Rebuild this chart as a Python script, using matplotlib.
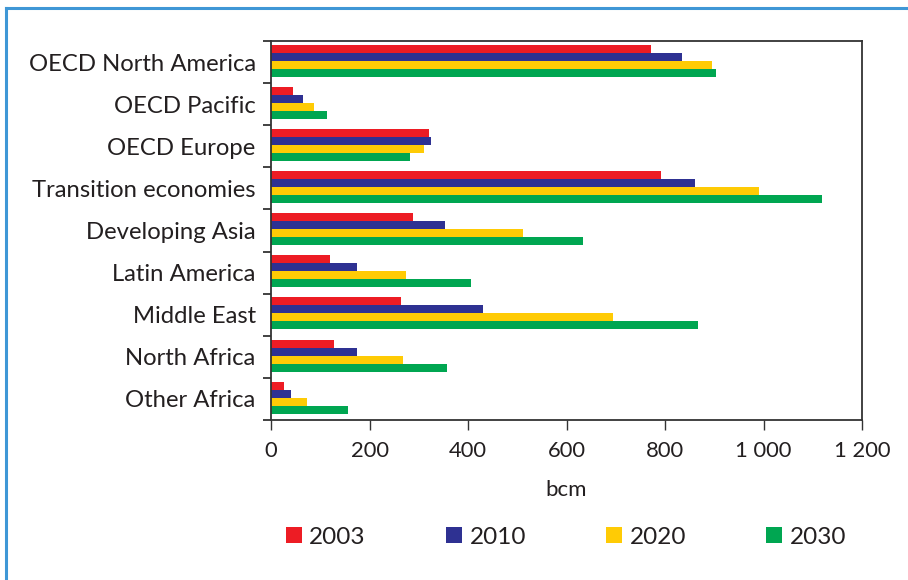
import matplotlib
matplotlib.use("Agg")
import matplotlib.pyplot as plt
import numpy as np
from matplotlib.patches import Patch
from matplotlib.lines import Line2D

regions = ["OECD North America", "OECD Pacific", "OECD Europe", "Transition economies",
           "Developing Asia", "Latin America", "Middle East", "North Africa", "Other Africa"]
years = ["2003", "2010", "2020", "2030"]
v2003 = [771, 45, 321, 791, 288, 120, 264, 127, 27]
v2010 = [834, 64, 325, 860, 354, 174, 430, 174, 41]
v2020 = [895, 88, 310, 990, 511, 274, 695, 268, 74]
v2030 = [903, 113, 283, 1118, 634, 407, 867, 358, 156]
x_ticks = [0, 200, 400, 600, 800, 1000, 1200]
x_ticklabels = ["0", "200", "400", "600", "800", "1 000", "1 200"]
colors = ["#ed1c24", "#2e3192", "#ffcb05", "#00a651"]
txt = "#231f20"
plt.rcParams['font.family'] = ['Lato', 'DejaVu Sans']

fig = plt.figure(figsize=(9.08, 5.8), dpi=100)
W, H = 908, 580
ax = fig.add_axes([271 / W, 1 - 420 / H, (862 - 271) / W, (420 - 41) / H])

series = [v2003, v2010, v2020, v2030]
y = np.arange(len(regions))
bh = 0.19
for i, (vals, c) in enumerate(zip(series, colors)):
    ax.barh(y + (i - 1.5) * bh - 0.03, vals, height=bh, color=c, label=years[i], linewidth=0)

ax.set_ylim(len(regions) - 0.5, -0.5)
ax.set_xlim(0, 1200)
ax.set_yticks(y)
ax.set_yticklabels(regions, fontsize=17.2, color=txt)
ax.set_yticks(np.arange(-0.5, len(regions) + 0.5, 1), minor=True)
ax.tick_params(axis='y', which='major', length=0, pad=11)
ax.tick_params(axis='y', which='minor', length=6, width=1.3, color="#333333", direction='out')
ax.set_xticks(x_ticks)
ax.set_xticklabels(x_ticklabels, fontsize=15.8, color=txt)
ax.tick_params(axis='x', length=7, width=1.0, color="#333333", direction='out', pad=8)
ax.set_xlabel("bcm", fontsize=16, color=txt, labelpad=14)
for s in ax.spines.values():
    s.set_color("#333333")
    s.set_linewidth(1.3)

handles = [Patch(facecolor=c, edgecolor='none') for c in colors]
fig.legend(handles, years, loc='center', bbox_to_anchor=(566 / W, 1 - 537 / H), ncol=4,
           frameon=False, fontsize=17.5, handlelength=0.66, handleheight=0.66,
           handletextpad=0.3, columnspacing=3.3, labelcolor=txt)

# blue frame (top and left edges visible)
fig.add_artist(Line2D([6 / W, 1.0], [1 - 8 / H, 1 - 8 / H], color="#3f97d6", lw=2.2, transform=fig.transFigure))
fig.add_artist(Line2D([6 / W, 6 / W], [1 - 8 / H, 0], color="#3f97d6", lw=2.2, transform=fig.transFigure))

fig.savefig("out.png", dpi=100)
